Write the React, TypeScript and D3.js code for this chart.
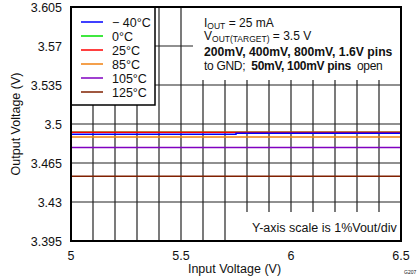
import React from "react";
import * as d3 from "d3";

const seriesNames = ["\u2212 40°C", "0°C", "25°C", "85°C", "105°C", "125°C"];
const seriesColors = ["#0000ff", "#00e000", "#ff0000", "#f08010", "#8000c0", "#802000"];
const blueX = [5, 5.75, 5.75, 6.5];
const blueY = [3.4907, 3.4907, 3.4916, 3.4916];
const greenX = [5, 6.5];
const greenY = [3.4925, 3.4925];
const redX = [5, 6.5];
const redY = [3.4925, 3.4925];
const orangeX = [5, 6.5];
const orangeY = [3.4883, 3.4883];
const purpleX = [5, 6.5];
const purpleY = [3.479, 3.479];
const brownX = [5, 6.5];
const brownY = [3.453, 3.453];
const yTicks = [3.395, 3.43, 3.465, 3.5, 3.535, 3.57, 3.605];
const yTickLabels = ["3.395", "3.43", "3.465", "3.5", "3.535", "3.57", "3.605"];
const xTicks = [5, 5.5, 6, 6.5];
const xTickLabels = ["5", "5.5", "6", "6.5"];
const xGrid = [5.1, 5.2, 5.3, 5.4, 5.5, 5.6, 5.7, 5.8, 5.9, 6.0, 6.1, 6.2, 6.3, 6.4];

const L = 71, R = 401, T = 7, B = 241;
const font = "'Liberation Sans', Arial, sans-serif";
const txt = "#111";

export default function App() {
  const x = d3.scaleLinear().domain([5, 6.5]).range([L, R]);
  const y = d3.scaleLinear().domain([3.395, 3.605]).range([B, T]);
  const line = d3.line<[number, number]>().x(d => x(d[0])).y(d => y(d[1]));
  const series: [number[], number[], number][] = [
    [greenX, greenY, 1],
    [redX, redY, 2],
    [blueX, blueY, 0],
    [orangeX, orangeY, 3],
    [purpleX, purpleY, 4],
    [brownX, brownY, 5],
  ];
  const grid = "#222";
  return (
    <svg width={419} height={279} style={{ position: "absolute", left: 0, top: 0, display: "block" }} fontFamily={font}>
      <rect x={0} y={0} width={419} height={279} fill="#fff" />
      {xGrid.map((v, i) => (
        <line key={"xg" + i} x1={x(v)} x2={x(v)} y1={T} y2={B} stroke={grid} strokeWidth={1.2} />
      ))}
      {yTicks.slice(1, -1).map((v, i) => (
        <line key={"yg" + i} x1={L} x2={R} y1={y(v)} y2={y(v)} stroke={grid} strokeWidth={1.2} />
      ))}
      {series.map(([xs, ys, ci], i) => (
        <path
          key={"s" + i}
          d={line(xs.map((v, j) => [v, ys[j]] as [number, number])) || ""}
          fill="none"
          stroke={seriesColors[ci]}
          strokeWidth={1.5}
        />
      ))}
      {/* annotation boxes */}
      <rect x={193} y={T + 1} width={R - 193 - 1} height={80 - T - 1} fill="#fff" />
      <rect x={236} y={212} width={R - 236 - 1} height={B - 212 - 1} fill="#fff" />
      {/* legend */}
      <rect x={L} y={T} width={155 - L} height={105 - T} fill="#fff" stroke="#000" strokeWidth={1.5} />
      {seriesNames.map((n, i) => {
        const yy = 22 + i * 14;
        return (
          <g key={"lg" + i}>
            <line x1={81} x2={103} y1={yy} y2={yy} stroke={seriesColors[i]} strokeWidth={1.5} />
            <text x={112} y={yy + 4.5} fontSize={12.5} fill={txt}>{n}</text>
          </g>
        );
      })}
      {/* plot border */}
      <rect x={L} y={T} width={R - L} height={B - T} fill="none" stroke="#000" strokeWidth={2} />
      {/* y ticks */}
      {yTicks.map((v, i) => (
        <text key={"yt" + i} x={62} y={y(v) + 4.5} fontSize={12.5} textAnchor="end" fill={txt}>{yTickLabels[i]}</text>
      ))}
      {xTicks.map((v, i) => (
        <text key={"xt" + i} x={x(v)} y={260} fontSize={12.5} textAnchor="middle" fill={txt}>{xTickLabels[i]}</text>
      ))}
      <text x={234.5} y={273} fontSize={12.5} textAnchor="middle" fill={txt}>Input Voltage (V)</text>
      <text transform={`translate(20,124) rotate(-90)`} fontSize={12.5} textAnchor="middle" fill={txt}>Output Voltage (V)</text>
      {/* annotations */}
      <text x={204} y={27} fontSize={12} fill={txt}>
        I<tspan fontSize={8.5} dy={2}>OUT</tspan><tspan dy={-2}> = 25 mA</tspan>
      </text>
      <text x={204} y={40} fontSize={12} fill={txt}>
        V<tspan fontSize={8.5} dy={2}>OUT(TARGET)</tspan><tspan dy={-2}> = 3.5 V</tspan>
      </text>
      <text x={204} y={56} fontSize={12.2} fontWeight="bold" fill={txt}>200mV, 400mV, 800mV, 1.6V pins</text>
      <text x={204} y={70} fontSize={12} letterSpacing={-0.3} fill={txt}>
        {"to GND;\u00a0 "}<tspan fontWeight="bold">50mV, 100mV pins</tspan>{"\u00a0 open"}
      </text>
      <text x={252} y={232} fontSize={12.5} fill={txt}>Y-axis scale is 1%Vout/div</text>
      <text x={404} y={274} fontSize={5} fill={txt}>G207</text>
    </svg>
  );
}
